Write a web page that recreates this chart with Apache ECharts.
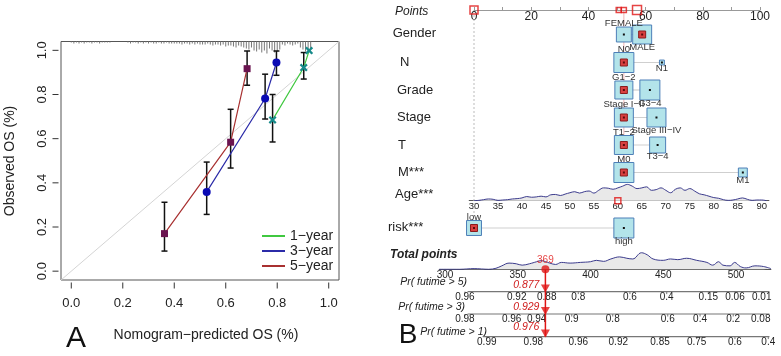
<!DOCTYPE html>
<html><head><meta charset="utf-8">
<script src="https://cdn.jsdelivr.net/npm/echarts@6/dist/echarts.min.js"></script>
<style>html,body{margin:0;padding:0;background:#fff}#c{width:781px;height:356px}</style>
</head><body><div id="c"></div>
<script>
// ================= DATA =================
// Panel A: calibration
const calTicks = [0, 0.2, 0.4, 0.6, 0.8, 1.0];
const calLimits = [-0.04, 1.04];
const year1Pred = [0.782, 0.903, 0.924];
const year1Obs  = [0.685, 0.922, 0.999];
const year1Lo   = [0.585, 0.870, 0.999];
const year1Hi   = [0.800, 0.990, 0.999];
const year3Pred = [0.526, 0.753, 0.797];
const year3Obs  = [0.359, 0.782, 0.945];
const year3Lo   = [0.257, 0.689, 0.887];
const year3Hi   = [0.494, 0.892, 0.997];
const year5Pred = [0.362, 0.619, 0.683];
const year5Obs  = [0.170, 0.584, 0.917];
const year5Lo   = [0.091, 0.467, 0.842];
const year5Hi   = [0.312, 0.733, 0.997];
const seriesNames = ['1−year', '3−year', '5−year'];
// distribution of predicted values (rug spikes at top)
const rugPred = [0.00,0.01,0.02,0.03,0.04,0.05,0.06,0.07,0.08,0.09,0.10,0.11,0.12,0.13,0.14,0.15,
  0.22,0.23,0.24,0.25,0.26,0.27,0.28,0.29,0.30,0.31,0.32,0.33,0.34,0.35,0.36,0.37,0.38,0.39,0.40,
  0.41,0.42,0.43,0.44,0.45,0.46,0.47,0.48,0.49,0.50,0.51,0.52,0.53,0.54,0.55,0.56,0.57,0.58,0.59,0.60,
  0.61,0.62,0.63,0.64,0.65,0.66,0.67,0.68,0.69,0.70,0.71,0.72,0.73,0.74,0.75,0.76,0.77,0.78,0.79,0.80,
  0.81,0.82,0.83,0.84,0.85,0.86,0.87,0.88,0.89,0.90,0.91,0.92,0.93];
const rugCount = [1,2,1,2,1,2,1,1,2,1,1,2,1,1,1,1,
  1,2,1,1,2,1,2,1,2,1,2,2,1,2,2,1,2,2,2,
  2,2,3,2,2,3,2,3,2,3,3,3,2,3,4,3,3,4,3,5,
  4,4,5,6,4,5,6,7,8,6,9,10,8,11,9,12,7,9,11,10,
  8,3,4,2,3,4,3,2,6,8,10,9,7];

// Panel B: nomogram
const pointsTicks = [0,10,20,30,40,50,60,70,80,90,100];
const pointsLabels = [0,20,40,60,80,100];
const nomoVars = ['Gender','N','Grade','Stage','T','M***','risk***'];
const nomoLevels = [['FEMALE','MALE'],['N0','N1'],['G1−2','G3−4'],['Stage I−II','Stage III−IV'],['T1−2','T3−4'],['M0','M1'],['low','high']];
const nomoLevelPoints = [[52.4,58.8],[52.4,65.7],[52.4,61.5],[52.4,63.8],[52.4,64.2],[52.4,94.0],[0,52.4]];
const nomoLevelFreq = [[56,90],[100,6],[81,100],[90,90],[90,64],[100,20],[56,100]];
const patientLevel = [1,0,0,0,0,0,0];
const patientScorePoints = [0, 50.6, 52.4, 57.0];
const ageTicks = [30,35,40,45,50,55,60,65,70,75,80,85,90];
const ageDensX = [30,31,32,33,34,35,36,37,38,39,40,41,42,43,44,45,46,47,48,49,50,51,52,53,54,55,56,57,58,59,60,
  61,62,63,64,65,66,67,68,69,70,71,72,73,74,75,76,77,78,79,80,81,82,83,84,85,86,87,88,89,90,91];
const ageDensY = [0,1,3,5,4,1,2,3,5,6,8,12,10,11,13,11,17,18,15,19,23,26,22,26,28,22,30,37,36,33,37,
  42,47,42,35,37,40,30,32,37,30,23,33,37,30,35,28,20,17,13,9,7,3,1,2,5,8,4,1,2,2,0];
const patientAge = 60;
const totalTicks = [300,350,400,450,500];
const totalDensX = [296,310,315,320,325,330,335,339,344,349,353,358,363,366,372,376,380,386,393,400,404,409,414,420,425,429,
  435,439,443,450,455,460,466,473,480,484,488,491,496,499,503,507,513,519,524];
const totalDensY = [0,0,1,2,1,0,3,10,18,16,12,16,22,25,18,14,20,18,20,22,26,23,30,36,32,30,
  48,42,30,26,30,28,32,26,20,12,22,12,10,20,8,4,10,8,2];
const patientTotal = 369;
const prNames = ['Pr( futime > 5)','Pr( futime > 3)','Pr( futime > 1)'];
const prRange = [[315.5,523],[315.5,523],[326,523]];
const prTickLabels = [
  ['0.96','0.92','0.88','0.8','0.6','0.4','0.15','0.06','0.01'],
  ['0.98','0.96','0.94','0.9','0.8','0.6','0.4','0.2','0.08'],
  ['0.99','0.98','0.96','0.92','0.85','0.75','0.6','0.4']];
const prTickAt = [
  [313.7,349.3,369.9,391.6,427.1,452.4,481,499.3,517.7],
  [313.7,345.8,363,387.1,415.3,453.1,475.3,498.1,517],
  [328.7,360.7,391.6,419.1,447.8,473,499.3,522.2]];
const prPatient = ['0.877','0.929','0.976'];

// ================= LAYOUT / STYLE =================
const FONT = '"Liberation Sans", Arial, sans-serif';
const LAY = {
  rowY: [34.5, 62.5, 90, 117.5, 145, 172.5, 228],
  prLineY: [291.6, 314, 336.6],
  prRedY: [285, 307.3, 327.5],
  prNameXY: [[467,281.7],[465,306.7],[487,332]],
  rowLabel: [[392.7,33],[400,62],[397,90],[397,117],[398,145],[398,172],[388,227]],
  rugUnit: 1.08/238.5,
  scoreMarkSize: [8,5,5,9],
  tickGap: 2.5, tickLen: 6
};
const C = {
  green:'#40c840', blue:'#2b2ba8', red:'#a83030',
  m1:'#168a8a', m3:'#0a0ab4', m5:'#6a1450',
  boxFill:'#b3e4ea', boxStroke:'#4d7fb8', hot:'#e01515'
};

// ================= BUILD =================
const chart = echarts.init(document.getElementById('c'), null, {renderer:'canvas'});
const zip = (a,b) => a.map((v,i)=>[v,b[i]]);
const errData = [];
[[year1Pred,year1Lo,year1Hi],[year3Pred,year3Lo,year3Hi],[year5Pred,year5Lo,year5Hi]].forEach(g=>{
  g[0].forEach((x,i)=>{ if (g[2][i] > g[1][i]) errData.push([x,g[1][i],g[2][i]]); });
});
const XSYM = 'path://M0,2L2,0L5,3L8,0L10,2L7,5L10,8L8,10L5,7L2,10L0,8L3,5Z';

const boxData = [], boxNames = [], linkData = [];
nomoVars.forEach((v,i)=>{
  linkData.push([nomoLevelPoints[i][0], nomoLevelPoints[i][1], LAY.rowY[i]]);
  nomoLevels[i].forEach((nm,j)=>{
    boxData.push([nomoLevelPoints[i][j], LAY.rowY[i], nomoLevelFreq[i][j], patientLevel[i]===j?1:0, j]);
    boxNames.push(nm);
  });
});
const prTickData = [];
prTickAt.forEach((arr,r)=>arr.forEach((t,k)=>prTickData.push([t, LAY.prLineY[r], r, k])));
// calibration axis ticks: [value, dim] (0 = x axis, 1 = y axis)
const calTickData = calTicks.map(v=>[v,0]).concat(calTicks.map(v=>[v,1]));

const txt = (x,y,text,font) => ({type:'text', x, y, silent:true,
  style:{text, font, fill:'#222', textAlign:'left', textVerticalAlign:'middle', align:'left', verticalAlign:'middle'}});

const graphics = [];
graphics.push({type:'text', x:10, y:161, rotation:Math.PI/2, silent:true,
  style:{text:'Observed OS (%)', font:'14px '+FONT, fill:'#222', textAlign:'center', textVerticalAlign:'middle', align:'center', verticalAlign:'middle'}});
graphics.push({type:'text', x:206, y:335, silent:true,
  style:{text:'Nomogram−predicted OS (%)', font:'14px '+FONT, fill:'#222', textAlign:'center', textVerticalAlign:'middle', align:'center', verticalAlign:'middle'}});
graphics.push({type:'text', x:76, y:339, silent:true,
  style:{text:'A', font:'30px '+FONT, fill:'#111', textAlign:'center', textVerticalAlign:'middle', align:'center', verticalAlign:'middle'}});
graphics.push({type:'text', x:408, y:335, silent:true,
  style:{text:'B', font:'28px '+FONT, fill:'#111', textAlign:'center', textVerticalAlign:'middle', align:'center', verticalAlign:'middle'}});
graphics.push(txt(395, 11.5, 'Points', 'italic 12px '+FONT));
nomoVars.forEach((v,i)=>graphics.push(txt(LAY.rowLabel[i][0], LAY.rowLabel[i][1], v, '13px '+FONT)));
graphics.push(txt(395, 194, 'Age***', '13px '+FONT));
graphics.push(txt(390, 255, 'Total points', 'italic bold 12px '+FONT));
prNames.forEach((n,i)=>graphics.push({type:'text', x:LAY.prNameXY[i][0], y:LAY.prNameXY[i][1], silent:true,
  style:{text:n, font:'italic 10.5px '+FONT, fill:'#222', textAlign:'right', textVerticalAlign:'middle', align:'right', verticalAlign:'middle'}}));

const hiddenY = (gi, min, max, inv) => ({gridIndex:gi, type:'value', min, max, inverse:!!inv, show:false});
const hiddenX = (gi, min, max) => ({gridIndex:gi, type:'value', min, max, show:false});
const G = (o) => Object.assign({outerBoundsMode:'none', containLabel:false}, o);

const option = {
  animation:false,
  backgroundColor:'#fff',
  textStyle:{fontFamily:FONT},
  graphic: graphics,
  legend:{orient:'vertical', left:262, top:229, itemWidth:23, itemHeight:2, itemGap:1, icon:'rect', padding:0,
    textStyle:{fontSize:14, color:'#222', fontFamily:FONT, lineHeight:14},
    data:[{name:seriesNames[0], itemStyle:{color:C.green}},{name:seriesNames[1], itemStyle:{color:C.blue}},{name:seriesNames[2], itemStyle:{color:C.red}}]},
  grid:[
    G({left:61, top:41.5, width:278, height:238.5, show:true, borderColor:'#555', borderWidth:1, backgroundColor:'transparent'}),
    G({left:474, top:0, width:286, height:10}),
    G({left:474, top:0, width:286, height:356}),
    G({left:469.2, top:182, width:299.7, height:18.7}),
    G({left:439.2, top:250, width:331.7, height:19.3}),
    G({left:439.2, top:0, width:331.7, height:356})
  ],
  xAxis:[
    {gridIndex:0, type:'value', min:calLimits[0], max:calLimits[1], position:'bottom',
      axisLine:{show:false}, splitLine:{show:false}, axisTick:{show:false},
      axisLabel:{customValues:calTicks, formatter:v=>v.toFixed(1), fontSize:13, color:'#222', margin:17, fontFamily:FONT}},
    {gridIndex:1, type:'value', min:0, max:100, position:'bottom',
      axisLine:{show:true, lineStyle:{color:'#999', width:1.2}}, splitLine:{show:false},
      axisTick:{show:true, inside:true, length:3, customValues:pointsTicks, lineStyle:{color:'#999'}},
      axisLabel:{customValues:pointsLabels, fontSize:12, color:'#222', margin:1, fontFamily:FONT}},
    hiddenX(2,0,100),
    {gridIndex:3, type:'value', min:29, max:91.5, position:'bottom',
      axisLine:{show:true, lineStyle:{color:'#555', width:1}}, splitLine:{show:false},
      axisTick:{show:false},
      axisLabel:{customValues:ageTicks, fontSize:9.5, color:'#222', margin:1, fontFamily:FONT}},
    {gridIndex:4, type:'value', min:296, max:524, position:'bottom',
      axisLine:{show:true, lineStyle:{color:'#555', width:1}}, splitLine:{show:false},
      axisTick:{show:false},
      axisLabel:{customValues:totalTicks, fontSize:10, color:'#222', margin:1, fontFamily:FONT}},
    hiddenX(5,296,524)
  ],
  yAxis:[
    {gridIndex:0, type:'value', min:calLimits[0], max:calLimits[1], position:'left',
      axisLine:{show:false}, splitLine:{show:false}, axisTick:{show:false},
      axisLabel:{customValues:calTicks, formatter:v=>v.toFixed(1), rotate:90, fontSize:13, color:'#222', margin:12, fontFamily:FONT}},
    hiddenY(1,0,1),
    hiddenY(2,0,356,true),
    hiddenY(3,0,54),
    hiddenY(4,0,56),
    hiddenY(5,0,356,true)
  ],
  series:[
    // ---- Panel A ----
    {type:'line', name:'ideal', xAxisIndex:0, yAxisIndex:0, data:[[calLimits[0],calLimits[0]],[calLimits[1],calLimits[1]]],
      symbol:'none', lineStyle:{color:'#d4d4d4', width:1}, z:1, silent:true},
    {type:'custom', name:'ticks', xAxisIndex:0, yAxisIndex:0, data:calTickData, z:2, silent:true, clip:false,
      renderItem:(p,api)=>{
        const v = api.value(0), d = api.value(1);
        const st = {stroke:'#333', lineWidth:1};
        if (d === 0) {
          const c = api.coord([v, calLimits[0]]);
          return {type:'line', shape:{x1:c[0], y1:c[1]+LAY.tickGap, x2:c[0], y2:c[1]+LAY.tickGap+LAY.tickLen}, style:st};
        }
        const c = api.coord([calLimits[0], v]);
        return {type:'line', shape:{x1:c[0]-LAY.tickGap, y1:c[1], x2:c[0]-LAY.tickGap-LAY.tickLen, y2:c[1]}, style:st};
      }},
    {type:'custom', name:'rug', xAxisIndex:0, yAxisIndex:0, data:zip(rugPred, rugCount), z:2, silent:true,
      renderItem:(p,api)=>{
        const a = api.coord([api.value(0), calLimits[1]]);
        const b = api.coord([api.value(0), calLimits[1] - api.value(1)*LAY.rugUnit]);
        return {type:'line', shape:{x1:a[0],y1:a[1],x2:b[0],y2:b[1]}, style:{stroke:'#777', lineWidth:1}};
      }},
    {type:'line', name:seriesNames[0], xAxisIndex:0, yAxisIndex:0, data:zip(year1Pred,year1Obs),
      lineStyle:{color:C.green, width:1.2}, itemStyle:{color:C.m1}, symbol:XSYM, symbolSize:8, z:6},
    {type:'line', name:seriesNames[1], xAxisIndex:0, yAxisIndex:0, data:zip(year3Pred,year3Obs),
      lineStyle:{color:C.blue, width:1.2}, itemStyle:{color:C.m3}, symbol:'circle', symbolSize:8, z:6},
    {type:'line', name:seriesNames[2], xAxisIndex:0, yAxisIndex:0, data:zip(year5Pred,year5Obs),
      lineStyle:{color:C.red, width:1.2}, itemStyle:{color:C.m5}, symbol:'rect', symbolSize:7, z:6},
    {type:'custom', name:'err', xAxisIndex:0, yAxisIndex:0, data:errData, z:5, silent:true,
      renderItem:(p,api)=>{
        const lo = api.coord([api.value(0), api.value(1)]), hi = api.coord([api.value(0), api.value(2)]);
        const st = {stroke:'#111', lineWidth:1.5};
        return {type:'group', children:[
          {type:'line', shape:{x1:lo[0],y1:lo[1],x2:hi[0],y2:hi[1]}, style:st},
          {type:'line', shape:{x1:lo[0]-3,y1:lo[1],x2:lo[0]+3,y2:lo[1]}, style:st},
          {type:'line', shape:{x1:hi[0]-3,y1:hi[1],x2:hi[0]+3,y2:hi[1]}, style:st}]};
      }},
    // ---- Panel B ----
    {type:'scatter', xAxisIndex:1, yAxisIndex:1, data:patientScorePoints.map(v=>[v,0]), symbol:'rect',
      symbolSize:(v,p)=>LAY.scoreMarkSize[p.dataIndex], z:6, silent:true,
      itemStyle:{color:'rgba(0,0,0,0)', borderColor:C.hot, borderWidth:1.5}},
    {type:'line', xAxisIndex:2, yAxisIndex:2, data:[[0,15],[0,216]], symbol:'none', silent:true, z:1,
      lineStyle:{color:'#bbb', width:1, type:[2,2]}},
    {type:'line', xAxisIndex:2, yAxisIndex:2, data:[[patientScorePoints[2],10],[patientScorePoints[2],180]], symbol:'none', silent:true, z:1,
      lineStyle:{color:'rgba(215,90,90,0.45)', width:1}},
    {type:'custom', xAxisIndex:2, yAxisIndex:2, data:linkData, z:2, silent:true,
      renderItem:(p,api)=>{
        const a = api.coord([api.value(0), api.value(2)]), b = api.coord([api.value(1), api.value(2)]);
        return {type:'line', shape:{x1:a[0],y1:a[1],x2:b[0],y2:b[1]}, style:{stroke:'#cfcfcf', lineWidth:1.2}};
      }},
    {type:'custom', xAxisIndex:2, yAxisIndex:2, data:boxData, z:3, silent:true,
      renderItem:(p,api)=>{
        const c = api.coord([api.value(0), api.value(1)]);
        const s = 2*Math.sqrt(api.value(2));
        const sel = api.value(3);
        const ch = [
          {type:'rect', shape:{x:c[0]-s/2, y:c[1]-s/2, width:s, height:s}, style:{fill:C.boxFill, stroke:C.boxStroke, lineWidth:1}},
          {type:'rect', shape:{x:c[0]-1, y:c[1]-1, width:2, height:2}, style:{fill:'#111'}}
        ];
        if (sel) {
          ch.push({type:'rect', shape:{x:c[0]-3.5, y:c[1]-3.5, width:7, height:7}, style:{fill:'#d84040', stroke:'#8a1c1c', lineWidth:1}});
          ch.push({type:'rect', shape:{x:c[0]-1, y:c[1]-1, width:2, height:2}, style:{fill:'#5a0a0a'}});
        }
        return {type:'group', children:ch};
      }},
    {type:'custom', xAxisIndex:2, yAxisIndex:2, data:boxData, z:4, silent:true,
      renderItem:(p,api)=>{
        const c = api.coord([api.value(0), api.value(1)]);
        const s = 2*Math.sqrt(api.value(2));
        const below = api.value(4);
        return {type:'text', x:c[0], y: below ? c[1]+s/2-1.5 : c[1]-s/2+1.5,
          style:{text:boxNames[p.dataIndex], font:'9.5px '+FONT, fill:'#333',
            align:'center', verticalAlign: below?'top':'bottom', textAlign:'center', textVerticalAlign: below?'top':'bottom'}};
      }},
    {type:'line', xAxisIndex:3, yAxisIndex:3, data:zip(ageDensX, ageDensY), smooth:0.4, symbol:'none', silent:true,
      lineStyle:{color:'#3b3b8c', width:1}, areaStyle:{color:'#e9e9e9', opacity:1}, z:2},
    {type:'scatter', xAxisIndex:3, yAxisIndex:3, data:[[patientAge,0]], symbol:'rect', symbolSize:6, silent:true, z:5,
      itemStyle:{color:'rgba(0,0,0,0)', borderColor:C.hot, borderWidth:1.5}},
    {type:'line', xAxisIndex:4, yAxisIndex:4, data:zip(totalDensX, totalDensY), smooth:0.4, symbol:'none', silent:true,
      lineStyle:{color:'#3b3b8c', width:1}, areaStyle:{color:'#e9e9e9', opacity:1}, z:2},
    {type:'scatter', xAxisIndex:4, yAxisIndex:4, data:[[patientTotal,0]], symbol:'circle', symbolSize:8, silent:true, z:6,
      itemStyle:{color:C.hot},
      label:{show:true, position:'top', distance:0, formatter:String(patientTotal), color:C.hot, fontSize:10, fontFamily:FONT}},
    ...prRange.map((r,i)=>({type:'line', xAxisIndex:5, yAxisIndex:5, data:[[r[0],LAY.prLineY[i]],[r[1],LAY.prLineY[i]]],
      symbol:'none', silent:true, lineStyle:{color:'#777', width:1.2}, z:2})),
    {type:'custom', xAxisIndex:5, yAxisIndex:5, data:prTickData, z:3, silent:true,
      renderItem:(p,api)=>{
        const c = api.coord([api.value(0), api.value(1)]);
        const r = api.value(2), k = api.value(3);
        return {type:'group', children:[
          {type:'line', shape:{x1:c[0],y1:c[1],x2:c[0],y2:c[1]+2.5}, style:{stroke:'#777', lineWidth:1}},
          {type:'text', x:c[0], y:c[1]+0.5, style:{text:prTickLabels[r][k], font:'10px '+FONT, fill:'#222',
            align:'center', verticalAlign:'top', textAlign:'center', textVerticalAlign:'top'}}]};
      }},
    {type:'line', xAxisIndex:5, yAxisIndex:5, data:[[patientTotal,269.3],[patientTotal,LAY.prLineY[2]]], symbol:'none', silent:true,
      lineStyle:{color:C.hot, width:1.5}, z:5},
    {type:'scatter', xAxisIndex:5, yAxisIndex:5, data:LAY.prLineY.map(y=>[patientTotal, y-3]), symbol:'triangle', symbolRotate:180,
      symbolSize:[9,8], silent:true, z:6, itemStyle:{color:C.hot}},
    {type:'custom', xAxisIndex:5, yAxisIndex:5, data:prPatient.map((v,i)=>[patientTotal, LAY.prRedY[i], i]), z:6, silent:true,
      renderItem:(p,api)=>{
        const c = api.coord([api.value(0), api.value(1)]);
        return {type:'text', x:c[0]-6, y:c[1], style:{text:prPatient[api.value(2)], font:'italic 10.5px '+FONT, fill:'#d02020',
          align:'right', verticalAlign:'middle', textAlign:'right', textVerticalAlign:'middle'}};
      }}
  ]
};
chart.setOption(option);
</script>
</body></html>
